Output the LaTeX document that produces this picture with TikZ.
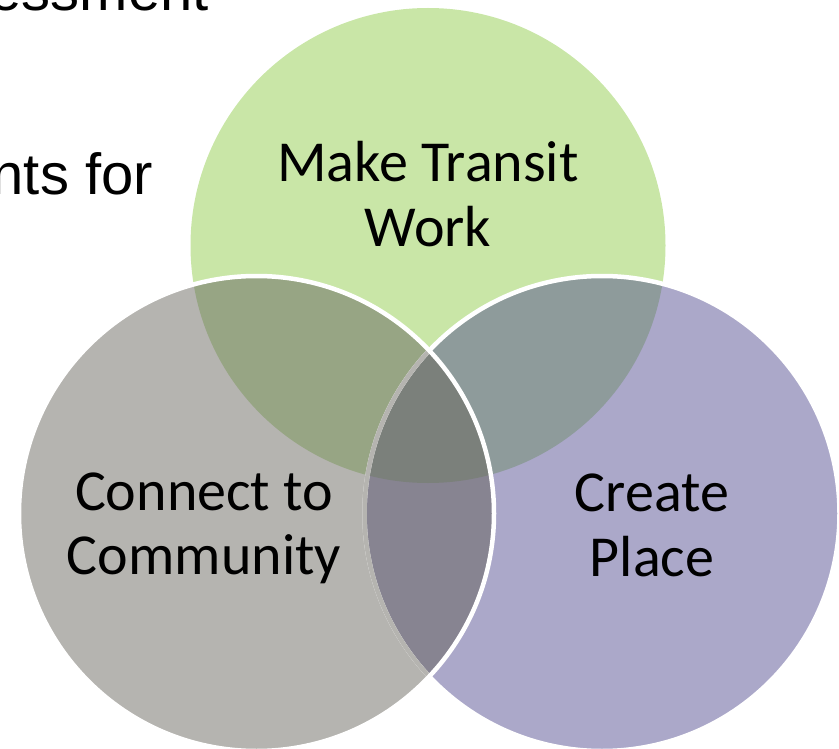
\documentclass[tikz,border=0pt]{standalone}
\usepackage{fontspec}
\setmainfont{Carlito}
\newfontfamily\bgfont{Liberation Sans}
\definecolor{cgreen}{HTML}{C9E6A7}
\definecolor{cgray}{HTML}{B5B4B0}
\definecolor{cpurple}{HTML}{ABA8C9}
\definecolor{cgreengray}{HTML}{97A584}
\definecolor{cgreenpurple}{HTML}{8E9B9B}
\definecolor{cgraypurple}{HTML}{878491}
\definecolor{call}{HTML}{7B807B}
\tikzset{
  vennlabel/.style={inner sep=0pt, anchor=base, font=\fontsize{58}{64}\selectfont, text=black},
  bglabel/.style={inner sep=0pt, anchor=base east, font=\bgfont\fontsize{58}{64}\selectfont, text=black},
  whiteedge/.style={draw=white, line width=4.5pt},
}
\begin{document}
\begin{tikzpicture}[x=1pt,y=-1pt]
\useasboundingbox (0,0) rectangle (839,749);
\def\R{237.5pt}
\coordinate (G) at (428,245.5);
\coordinate (C) at (256.5,513.5);
\coordinate (P) at (602,513.5);
% background slide text
\node[bglabel] (bg1) at (209,11) {essment};
\node[bglabel] (bg2) at (153,195) {nts for};
% base fills
\fill[cgreen] (G) circle[radius=\R];
\fill[cpurple] (P) circle[radius=\R];
\fill[cgray] (C) circle[radius=\R];
% pairwise overlaps
\begin{scope}
  \clip (G) circle[radius=\R];
  \fill[cgreenpurple] (P) circle[radius=\R];
  \fill[cgreengray] (C) circle[radius=\R];
\end{scope}
\begin{scope}
  \clip (C) circle[radius=\R];
  \fill[cgraypurple] (P) circle[radius=\R];
  \clip (P) circle[radius=\R];
  \fill[call] (G) circle[radius=\R];
\end{scope}
% purple outline
\draw[whiteedge] (P) circle[radius=\R];
\begin{scope}
  \clip (C) circle[radius=\R];
  \draw[draw=cgray, line width=4.5pt] (P) circle[radius=\R];
\end{scope}
% gray outline
\draw[whiteedge] (C) circle[radius=\R];
% labels
\node[vennlabel] (t1) at (428,181.5) {Make Transit};
\node[vennlabel] (t2) at (428,246.5) {Work};
\node[vennlabel] (l1) at (204,510.5) {Connect to};
\node[vennlabel] (l2) at (204,574) {Community};
\node[vennlabel] (r1) at (652,511.5) {Create};
\node[vennlabel] (r2) at (652,576.5) {Place};
\end{tikzpicture}
\end{document}
